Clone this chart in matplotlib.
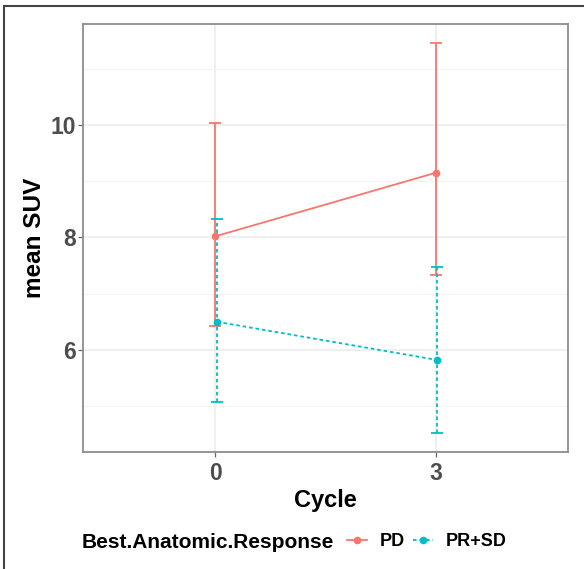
import matplotlib
matplotlib.use('Agg')
import matplotlib.pyplot as plt
from matplotlib.lines import Line2D
from matplotlib.patches import Rectangle

plt.rcParams['font.family'] = ['Liberation Sans', 'DejaVu Sans']

# data
cycles = ['0', '3']
groups = ['PD', 'PR+SD']
mean_suv = {'PD': [8.02, 9.15], 'PR+SD': [6.50, 5.82]}
lower = {'PD': [6.42, 7.33], 'PR+SD': [5.07, 4.53]}
upper = {'PD': [10.03, 11.45], 'PR+SD': [8.33, 7.48]}

colors = {'PD': '#F8766D', 'PR+SD': '#00BFC4'}
styles = {'PD': '-', 'PR+SD': (0, (2, 1.6))}
dodge = {'PD': 0.0, 'PR+SD': 0.008}

W, H = 584, 569
fig = plt.figure(figsize=(W / 100, H / 100), dpi=100)
ax = fig.add_axes([83 / W, 1 - 452 / H, (568 - 83) / W, (452 - 24) / H])

xpos = [1, 2]
for g in groups:
    xs = [x + dodge[g] for x in xpos]
    m = mean_suv[g]
    err = [[mi - lo for mi, lo in zip(m, lower[g])],
           [hi - mi for mi, hi in zip(m, upper[g])]]
    eb = ax.errorbar(xs, m, yerr=err, color=colors[g], linestyle='none',
                     capsize=4.6, capthick=1.3, elinewidth=1.3, zorder=3)
    eb[2][0].set_linestyle(styles[g])
    ax.plot(xs, m, color=colors[g], linestyle=styles[g], lw=1.3,
            marker='o', markersize=4.5, zorder=4)

ymin = min(min(v) for v in lower.values())
ymax = max(max(v) for v in upper.values())
pad = (ymax - ymin) * 0.05
ax.set_ylim(ymin - pad, ymax + pad)
ax.set_xlim(0.4, 2.6)
ax.set_xticks(xpos)
ax.set_xticklabels(cycles)
ax.set_yticks([6, 8, 10])
ax.set_yticks([5, 7, 9, 11], minor=True)
ax.set_xticks([], minor=True)

ax.grid(True, which='major', color='#EBEBEB', lw=1.1, zorder=0)
ax.grid(True, which='minor', axis='y', color='#F3F3F3', lw=0.7, zorder=0)
ax.set_axisbelow(True)
for s in ax.spines.values():
    s.set_color('#8C8C8C')
    s.set_linewidth(1.3)

ax.tick_params(axis='both', which='major', length=3.5, color='#666666',
               labelsize=16.5, labelcolor='#4D4D4D', width=0.9)
ax.tick_params(axis='y', which='major', pad=1.5)
ax.tick_params(axis='y', which='minor', length=0)
for lab in ax.get_xticklabels() + ax.get_yticklabels():
    lab.set_fontweight('bold')

ax.set_xlabel('Cycle', fontsize=17, fontweight='bold', labelpad=3)
ax.set_ylabel('mean SUV', fontsize=17.5, fontweight='bold', labelpad=3)

# legend along the bottom
fig.text(82 / W, 1 - 542 / H, 'Best.Anatomic.Response', fontsize=15,
         fontweight='bold', ha='left', va='center')
handles = [Line2D([], [], color=colors[g], linestyle=styles[g], lw=1.3,
                  marker='o', markersize=4.5) for g in groups]
leg = fig.legend(handles, groups, loc='center left', ncol=2,
                 bbox_to_anchor=(347 / W, 1 - 542 / H), frameon=False,
                 borderpad=0, borderaxespad=0,
                 handlelength=1.1, handletextpad=0.72, columnspacing=0.45,
                 prop={'size': 13, 'weight': 'bold'})

# outer frame of the picture
fig.patches.append(Rectangle((4 / W, -0.1), 1.2, 1 - 6 / H + 0.1,
                             transform=fig.transFigure, fill=False,
                             edgecolor='#444444', lw=1.5))

fig.savefig('out.png', dpi=100)
